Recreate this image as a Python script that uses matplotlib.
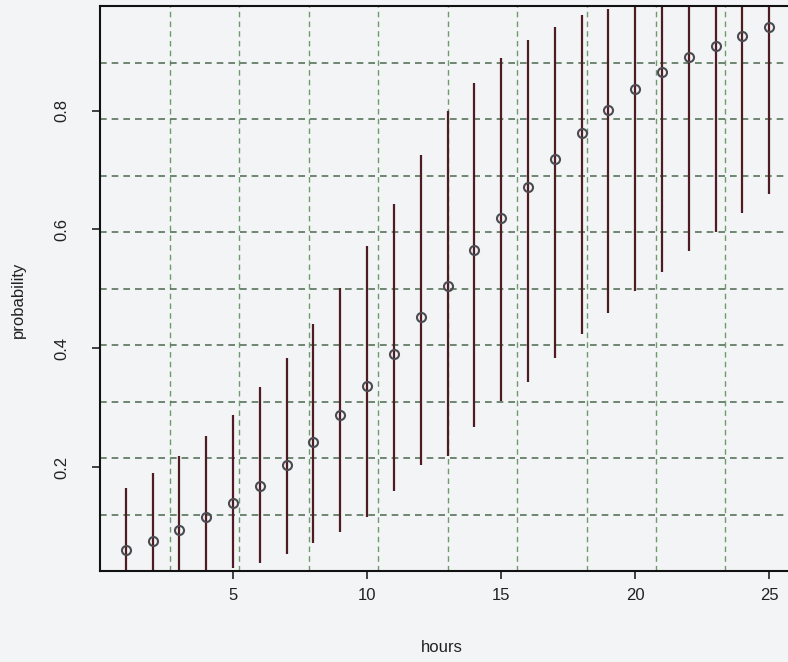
import numpy as np
import matplotlib
matplotlib.use("Agg")
import matplotlib.pyplot as plt

plt.rcParams['font.family'] = ['Liberation Sans', 'DejaVu Sans']

hours = list(range(1, 26))
prob = [0.060, 0.076, 0.093, 0.115, 0.139, 0.168, 0.204, 0.242, 0.287, 0.336,
        0.391, 0.452, 0.505, 0.566, 0.619, 0.672, 0.719, 0.763, 0.801, 0.836,
        0.865, 0.890, 0.909, 0.926, 0.941]
upper = [0.165, 0.190, 0.218, 0.252, 0.287, 0.334, 0.384, 0.441, 0.501, 0.572,
         0.642, 0.725, 0.799, 0.846, 0.889, 0.919, 0.941, 0.961, 0.972, 0.982,
         0.988, 0.992, 0.995, 0.997, 0.998]
lower = [0.005, 0.010, 0.015, 0.020, 0.029, 0.038, 0.053, 0.072, 0.091, 0.116,
         0.160, 0.203, 0.218, 0.268, 0.311, 0.343, 0.383, 0.424, 0.460, 0.497,
         0.528, 0.564, 0.596, 0.627, 0.659]
xticks = [5, 10, 15, 20, 25]
yticks = [0.2, 0.4, 0.6, 0.8]

W, H = 788, 662
fig = plt.figure(figsize=(W / 100, H / 100), dpi=100, facecolor='#f3f4f6')
ax = fig.add_axes([100 / W, (H - 571) / H, 695 / W, 565 / H])
ax.set_facecolor('#f3f4f6')

# R-style limits: 4% padding
xr = max(hours) - min(hours)
xlim = (min(hours) - 0.04 * xr, max(hours) + 0.04 * xr)
yr = max(prob) - min(prob)
ylim = (min(prob) - 0.04 * yr, max(prob) + 0.04 * yr)
ax.set_xlim(*xlim)
ax.set_ylim(*ylim)

# grid(10, 10) style dashed lines
for gx in np.linspace(xlim[0], xlim[1], 11)[1:-1]:
    ax.axvline(gx, color='#6e9a6e', lw=1.0, ls=(0, (4, 3)), zorder=1)
for gy in np.linspace(ylim[0], ylim[1], 11)[1:-1]:
    ax.axhline(gy, color='#56735a', lw=1.2, ls=(0, (4, 3)), zorder=1)

ax.vlines(hours, lower, upper, color='#4e1c22', lw=1.6, zorder=2)
ax.plot(hours, prob, ls='none', marker='o', ms=6.5, mfc='none',
        mec='#4a4a50', mew=1.5, zorder=3)

ax.set_xticks(xticks)
ax.set_xticklabels([str(t) for t in xticks])
ax.set_yticks(yticks)
ax.set_yticklabels([f"{t:.1f}" for t in yticks], rotation=90, va='center')
ax.tick_params(axis='both', direction='out', length=6, width=1.2,
               labelsize=12, colors='#222222')
ax.tick_params(axis='x', pad=6)
ax.tick_params(axis='y', pad=16)
for s in ax.spines.values():
    s.set_linewidth(1.5)
    s.set_color('#111111')

fig.text(442 / W, 1 - 648 / H, 'hours', ha='center', va='center',
         fontsize=12, color='#222222')
fig.text(18 / W, 1 - 300 / H, 'probability', ha='center', va='center',
         rotation=90, fontsize=12, color='#222222')

fig.savefig('out.png', dpi=100, facecolor=fig.get_facecolor())
